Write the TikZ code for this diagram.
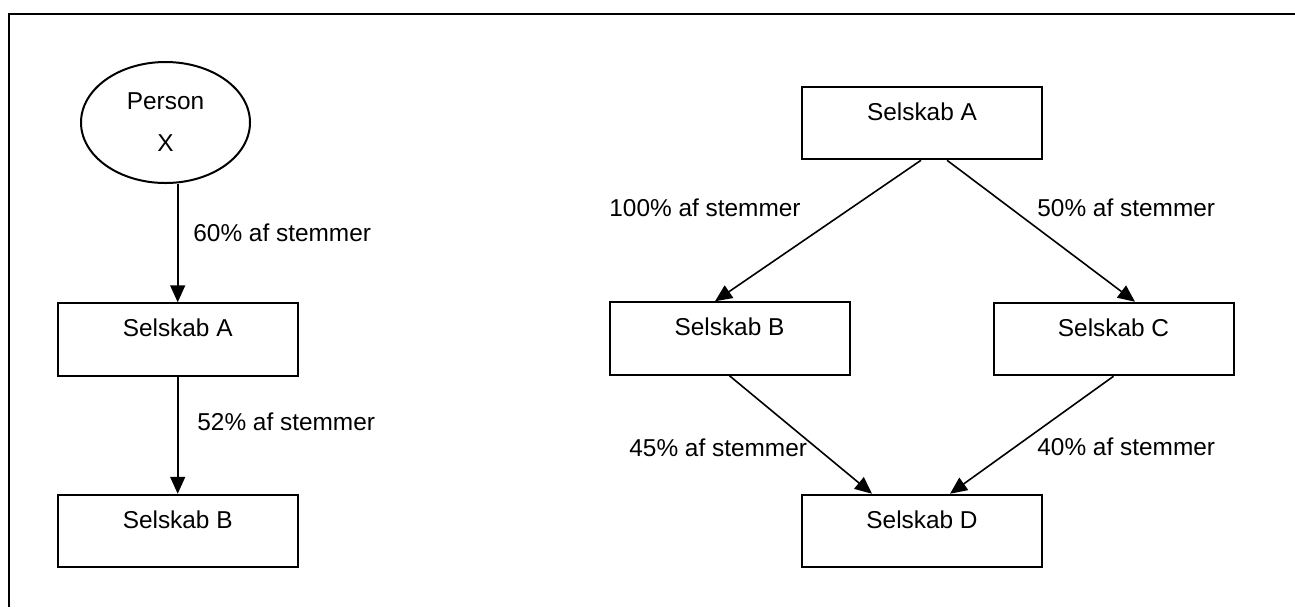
\documentclass[tikz,border=0pt]{standalone}
\usepackage{fontspec}
\setmainfont{Liberation Sans}
\usetikzlibrary{arrows.meta,shapes.geometric,calc}
\begin{document}
\begin{tikzpicture}[x=0.5pt,y=-0.5pt,
  txt/.style={font=\fontsize{12.2}{14}\selectfont},
  box/.style={txt,draw,line width=1pt,minimum width=120pt,minimum height=36.25pt,
    inner sep=0pt,text height=16.8pt,text depth=19.45pt},
  person/.style={draw,ellipse,line width=1pt,minimum width=84.5pt,minimum height=60.5pt,
    inner sep=0pt,align=center,font=\fontsize{12.2}{21}\selectfont},
  conn/.style={line width=0.8pt,-{Triangle[length=8.5pt,width=7.5pt]}},
  lbl/.style={txt,anchor=west,inner sep=0pt}]
\useasboundingbox (0,0) rectangle (1295,607);
% frame
\draw[line width=1pt] (8.5,607) -- (8.5,14) -- (1295,14);

% left chain
\node[person] (px) at (165.5,122.5) {Person\\X};
\node[box] (la) at (177.7,339.5) {Selskab A};
\node[box] (lb) at (177.7,531) {Selskab B};
\draw[conn] (px.south -| la.north) -- (la.north);
\draw[conn] (la.south) -- (lb.north);
\node[lbl] (l60) at (193,233) {60\% af stemmer};
\node[lbl] (l52) at (197,422) {52\% af stemmer};

% right structure
\node[box] (ra) at (922,123) {Selskab A};
\node[box] (rb) at (729.5,338.5) {Selskab B};
\node[box] (rc) at (1113.5,339) {Selskab C};
\node[box] (rd) at (922,531) {Selskab D};
\draw[conn] ($(ra.south)+(-1,0)$) -- ($(rb.north)+(-14.5,0)$);
\draw[conn] ($(ra.south)+(25,0)$) -- ($(rc.north)+(21.5,0)$);
\draw[conn] (rb.south) -- ($(rd.north)+(-50,0)$);
\draw[conn] (rc.south) -- ($(rd.north)+(28,0)$);
\node[lbl] (r100) at (609,208) {100\% af stemmer};
\node[lbl] (r50) at (1037,208) {50\% af stemmer};
\node[lbl] (r45) at (629,448) {45\% af stemmer};
\node[lbl] (r40) at (1037,447) {40\% af stemmer};
\end{tikzpicture}
\end{document}
